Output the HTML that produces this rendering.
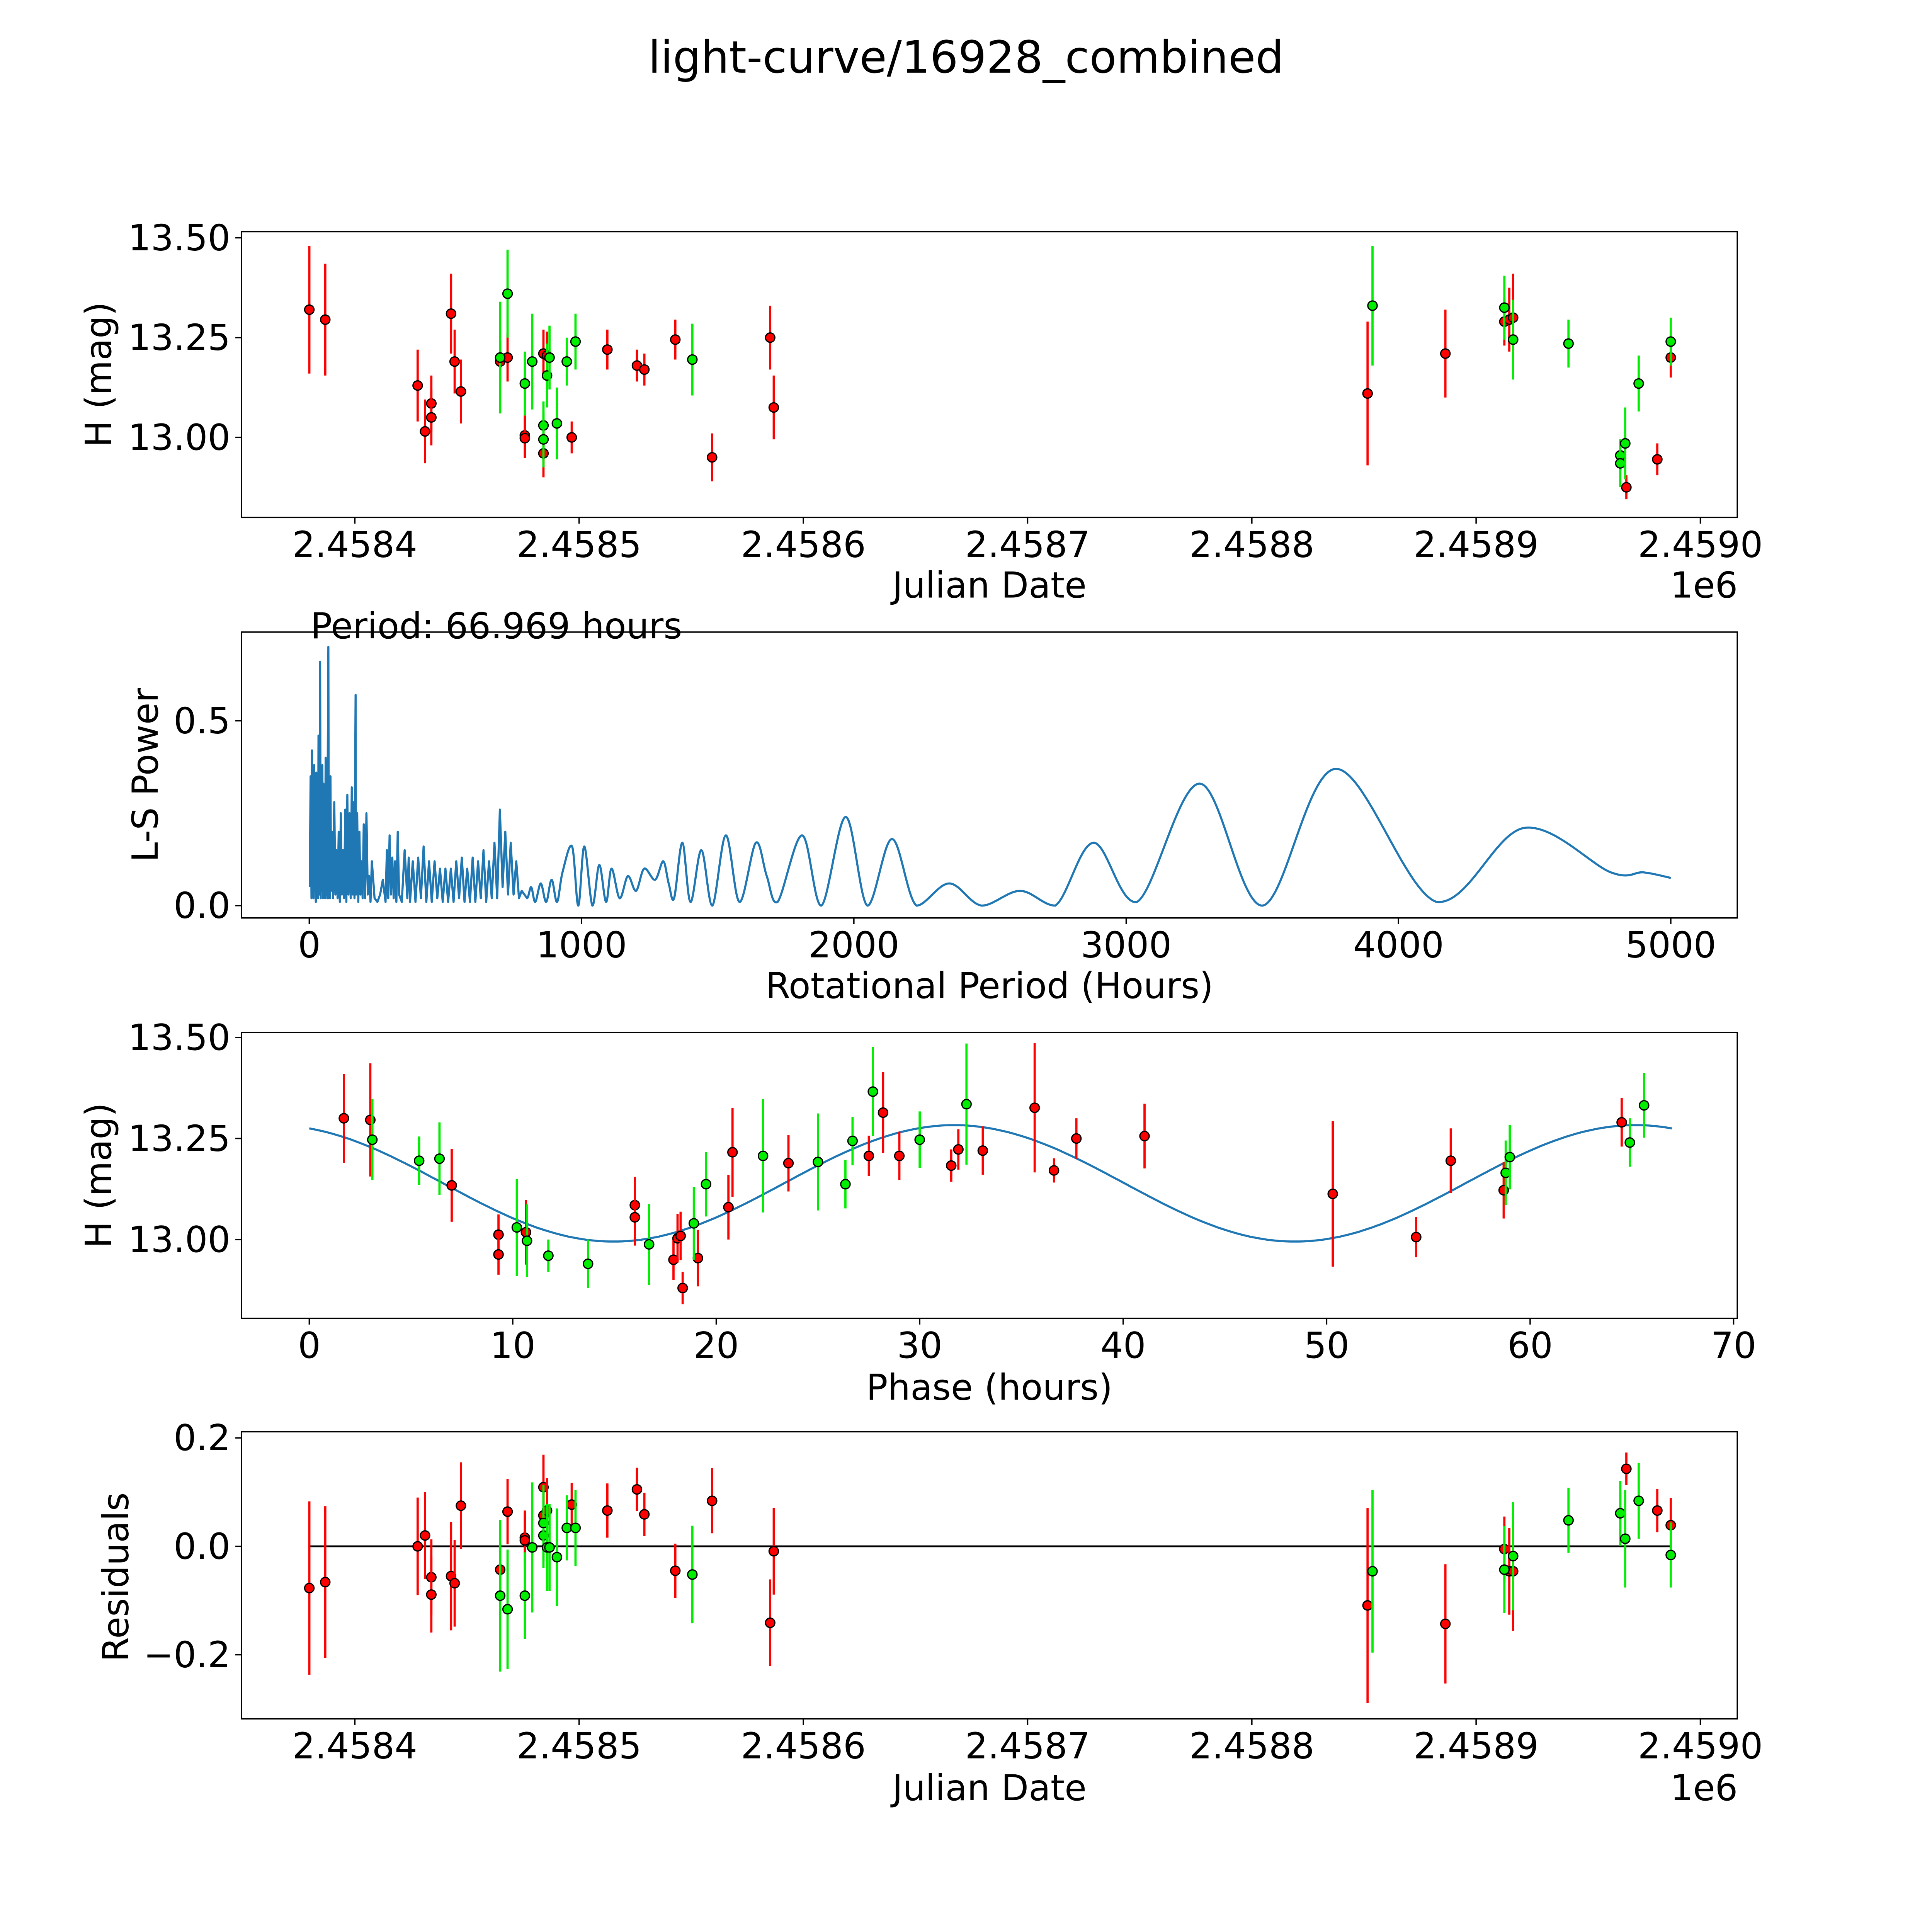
<!DOCTYPE html>
<html><head><meta charset="utf-8"><style>
html,body{margin:0;padding:0;background:#fff;overflow:hidden;width:100%;height:100%}
svg{display:block;width:100vw;height:100vh}
text{font-family:"DejaVu Sans","Liberation Sans",sans-serif;fill:#000}
</style></head><body>
<svg id="fig" viewBox="0 0 1568 1568" preserveAspectRatio="none" xmlns="http://www.w3.org/2000/svg">
<rect width="1568" height="1568" fill="#fff"/>
<text x="784" y="59" font-size="36" text-anchor="middle">light-curve/16928_combined</text>
<g id="g"></g>
</svg>
<script>
// ---------- data ----------
const redJD=[-20.3,-13.2,28,31.3,34.1,34.1,42.9,44.5,47.3,64.8,68.1,75.8,75.8,84.1,84.1,85.7,96.7,112.6,125.8,129.1,142.9,159.3,185.2,186.8,451.6,486.3,512.6,514.8,516.5,567,580.8,586.8];
const redMag=[13.32,13.295,13.13,13.015,13.085,13.05,13.31,13.19,13.115,13.19,13.20,13.005,12.998,12.96,13.21,13.205,13.0,13.22,13.18,13.17,13.245,12.95,13.25,13.075,13.11,13.21,13.29,13.295,13.30,12.875,12.945,13.2];
const redErr=[0.16,0.14,0.09,0.08,0.07,0.07,0.1,0.08,0.08,0.05,0.06,0.05,0.05,0.06,0.06,0.06,0.04,0.05,0.04,0.04,0.05,0.06,0.08,0.08,0.18,0.11,0.06,0.08,0.11,0.03,0.04,0.05];
const grnJD=[64.8,68.1,75.8,79.1,84.1,84.1,85.7,86.8,90.1,94.5,98.4,150.5,453.8,512.6,516.5,541.2,564.3,564.3,566.5,572.5,586.8];
const grnMag=[13.2,13.36,13.135,13.19,13.03,12.995,13.155,13.2,13.035,13.19,13.24,13.195,13.33,13.325,13.245,13.235,12.955,12.935,12.985,13.135,13.24];
const grnErr=[0.14,0.11,0.08,0.12,0.06,0.07,0.08,0.08,0.09,0.06,0.07,0.09,0.15,0.08,0.1,0.06,0.04,0.06,0.09,0.07,0.06];
const redRes=[-0.077,-0.066,0,0.02,-0.057,-0.089,-0.055,-0.068,0.075,-0.043,0.064,0.016,0.011,0.057,0.109,0.066,0.077,0.066,0.105,0.059,-0.045,0.084,-0.141,-0.009,-0.109,-0.143,-0.005,-0.046,-0.046,0.143,0.066,0.039];
const grnRes=[-0.091,-0.116,-0.091,-0.002,0.02,0.043,-0.002,-0.002,-0.02,0.034,0.034,-0.052,-0.046,-0.043,-0.018,0.048,0.061,0.061,0.014,0.084,-0.016];
const redPhase=[1.7,3.0,7.0,9.3,9.3,10.65,16.0,16.0,17.9,18.1,18.25,18.35,19.1,20.6,20.8,23.55,27.5,28.2,29.0,31.55,31.9,33.1,35.65,36.6,37.7,41.05,50.3,54.4,56.1,58.7,64.5];
const redPMag=[13.30,13.296,13.134,13.012,12.963,13.018,13.085,13.055,12.95,13.003,13.009,12.88,12.954,13.08,13.216,13.189,13.207,13.314,13.207,13.183,13.223,13.22,13.326,13.171,13.25,13.256,13.113,13.006,13.195,13.122,13.29];
const redPErr=[0.11,0.14,0.09,0.05,0.05,0.08,0.07,0.07,0.05,0.06,0.06,0.04,0.07,0.08,0.11,0.07,0.05,0.1,0.06,0.04,0.05,0.06,0.16,0.03,0.05,0.08,0.18,0.05,0.08,0.07,0.06];
const grnPhase=[3.1,5.4,6.4,10.2,10.7,11.75,13.7,16.7,18.9,19.5,22.3,25.0,26.35,26.7,27.7,30.0,32.3,58.8,59.0,64.9,65.6];
const grnPMag=[13.247,13.195,13.2,13.03,12.997,12.96,12.94,12.988,13.04,13.137,13.207,13.192,13.137,13.244,13.366,13.247,13.335,13.165,13.204,13.24,13.332];
const grnPErr=[0.1,0.06,0.09,0.12,0.09,0.04,0.06,0.1,0.09,0.08,0.14,0.12,0.06,0.06,0.11,0.07,0.15,0.08,0.08,0.06,0.08];
const fitParams=[13.139,0.144,31.7,33.4845];
const fitPeriod=66.969;
const lsPeriod=[
2,5,8,10,12,14,16,18,20,22,
24,26,28,30,32,34,36,38,40,42,
44,46,48,50,52,54,56,58,60,62,
64,66,68,70,72,74,76,78,80,84,
88,92,96,100,104,108,112,116,120,124,
128,132,136,140,144,148,152,156,160,164,
166,170,172,176,180,184,188,192,196,200,
205,210,215,220,225,230,240,250,260,270,
280,285,290,295,300,305,310,315,320,325,
330,340,350,360,365,370,380,390,400,410,
420,430,440,450,460,470,480,490,500,510,
520,530,540,550,560,570,580,590,600,610,
620,630,640,650,660,670,680,690,700,710,
720,730,740,750,760,770,780,800,815,830,
850,870,890,910,930,965,988,1010,1040,1065,
1090,1110,1140,1170,1200,1230,1270,1300,1320,1340,
1370,1400,1440,1480,1530,1580,1640,1680,1720,1810,
1880,1970,2050,2140,2230,2350,2470,2610,2740,2880,
3040,3270,3500,3770,4140,4460,4780,4900,5000];
const lsPower=[
0.05,0.35,0.02,0.42,0.03,0.3,0.02,0.38,0.04,0.33,
0.01,0.36,0.05,0.25,0.02,0.46,0.03,0.2,0.66,0.02,
0.3,0.04,0.38,0.02,0.33,0.05,0.22,0.02,0.4,0.03,
0.25,0.02,0.38,0.7,0.02,0.3,0.02,0.35,0.04,0.2,
0.02,0.28,0.03,0.15,0.02,0.2,0.01,0.25,0.03,0.15,
0.02,0.26,0.01,0.3,0.03,0.25,0.02,0.32,0.03,0.28,
0.02,0.57,0.03,0.25,0.01,0.2,0.03,0.12,0.02,0.22,
0.02,0.25,0.03,0.08,0.01,0.12,0.02,0.01,0.03,0.07,
0.01,0.15,0.02,0.19,0.03,0.13,0.02,0.12,0.01,0.2,
0.03,0.01,0.15,0.02,0.13,0.01,0.12,0.01,0.13,0.02,
0.16,0.01,0.12,0.01,0.12,0.02,0.1,0.01,0.1,0.01,
0.1,0.01,0.12,0.02,0.13,0.01,0.1,0.01,0.13,0.01,
0.12,0.02,0.15,0.01,0.12,0.02,0.17,0.02,0.26,0.05,
0.2,0.03,0.17,0.03,0.12,0.02,0.04,0.02,0.05,0.01,
0.06,0.01,0.07,0.01,0.09,0.16,0.0,0.16,0.0,0.11,
0.01,0.1,0.02,0.08,0.04,0.1,0.07,0.12,0.06,0.02,
0.17,0.01,0.15,0.0,0.19,0.01,0.17,0.08,0.01,0.19,
0.0,0.24,0.0,0.18,0.0,0.06,0.0,0.04,0.0,0.17,
0.01,0.33,0.0,0.37,0.01,0.21,0.09,0.09,0.075];
const jdTicks=[2458400,2458500,2458600,2458700,2458800,2458900,2459000];
const jdTickLabels=["2.4584","2.4585","2.4586","2.4587","2.4588","2.4589","2.4590"];
const magTicks=[13.0,13.25,13.5];
const magTickLabels=["13.00","13.25","13.50"];
const lsXTicks=[0,1000,2000,3000,4000,5000];
const lsYTicks=[0,0.5];
const lsYTickLabels=["0.0","0.5"];
const phTicks=[0,10,20,30,40,50,60,70];
const resTicks=[-0.2,0,0.2];
const resTickLabels=["\u22120.2","0.0","0.2"];

// ---------- scales ----------
const jdX=jd=>288+(jd-2458400)*1.82;
const jdX0=o=>288+o*1.82;
const p1Y=m=>355-(m-13)*324;
const lsX=p=>251+p*0.221;
const lsY=v=>735-v*300;
const phX=p=>251+p*16.514;
const p3Y=m=>1006-(m-13)*328;
const resY=r=>1255-r*440;
const FS=29;

const NS="http://www.w3.org/2000/svg";
const G=document.getElementById('g');
function mk(tag,attrs,parent){const e=document.createElementNS(NS,tag);for(const k in attrs)e.setAttribute(k,attrs[k]);(parent||G).appendChild(e);return e;}
function txt(s,attrs,parent){const e=mk('text',attrs,parent);e.textContent=s;return e;}

function frame(name,x0,y0,x1,y1){
  const r=mk('rect',{x:x0,y:y0,width:x1-x0,height:y1-y0,fill:'none',stroke:'#000','stroke-width':1.1});
  
  
}
function xticks(name,vals,labels,fx,yb){
  vals.forEach((v,i)=>{const x=fx(v);
    const t=mk('line',{x1:x,x2:x,y1:yb,y2:yb+5,stroke:'#000','stroke-width':1.1});
    
    
    const l=txt(labels[i],{x:x,y:yb+32,'font-size':FS,'text-anchor':'middle'});
    
    });
}
function yticks(name,vals,labels,fy,xl){
  vals.forEach((v,i)=>{const y=fy(v);
    const t=mk('line',{x1:xl-5,x2:xl,y1:y,y2:y,stroke:'#000','stroke-width':1.1});
    
    
    const l=txt(labels[i],{x:xl-9,y:y+10,'font-size':FS,'text-anchor':'end'});
    
    });
}
function ylabel(name,s,x,y){
  const l=txt(s,{x:x,y:y,'font-size':FS,'text-anchor':'middle',transform:`rotate(-90 ${x} ${y})`});
  
  
}
function xlabel(name,s,x,y){
  const l=txt(s,{x:x,y:y,'font-size':FS,'text-anchor':'middle'});
  
  
}
function points(name,xs,ys,errs,color,fx,fy,errScale){
  xs.forEach((v,i)=>{
    const x=fx(v),y=fy(ys[i]);
    if(errs){const e=errs[i]*errScale;
      const b=mk('line',{x1:x,x2:x,y1:y-e,y2:y+e,stroke:color,'stroke-width':1.8});
      
      }
    const c=mk('circle',{cx:x,cy:y,r:3.8,fill:color,stroke:'#000','stroke-width':1});
    
    
  });
}

// ---------- Panel 1 ----------
frame('lightcurve',196,188,1410,420);
xticks('lightcurve',jdTicks,jdTickLabels,jdX,420);
yticks('lightcurve',magTicks,magTickLabels,p1Y,196);
xlabel('lightcurve','Julian Date',803,485);
let o=txt('1e6',{x:1383,y:485,'font-size':FS,'text-anchor':'middle'});


ylabel('lightcurve','H (mag)',90,304);
points('lightcurve-red',redJD,redMag,redErr,'#ff0000',jdX0,p1Y,324);
points('lightcurve-green',grnJD,grnMag,grnErr,'#00ee00',jdX0,p1Y,324);

// ---------- Panel 2 ----------
frame('periodogram',196,513,1410,745);
xticks('periodogram',lsXTicks,lsXTicks.map(String),lsX,745);
yticks('periodogram',lsYTicks,lsYTickLabels,lsY,196);
xlabel('periodogram','Rotational Period (Hours)',803,810);
ylabel('periodogram','L-S Power',128,629);
let pt=txt('Period: 66.969 hours',{x:252,y:518,'font-size':FS});


const P=lsPeriod.map((p,i)=>[lsX(p),lsY(lsPower[i])]);
let d='M'+P[0][0].toFixed(1)+' '+P[0][1].toFixed(1);
for(let i=0;i<P.length-1;i++){
  const p0=P[Math.max(0,i-1)],p1=P[i],p2=P[i+1],p3=P[Math.min(P.length-1,i+2)];
  if(lsPeriod[i]<800){d+='L'+p2[0].toFixed(1)+' '+p2[1].toFixed(1);continue;}
  const c1x=p1[0]+(p2[0]-p0[0])/6,c1y=p1[1]+(p2[1]-p0[1])/6;
  const c2x=p2[0]-(p3[0]-p1[0])/6,c2y=p2[1]-(p3[1]-p1[1])/6;
  d+='C'+c1x.toFixed(1)+' '+Math.min(735,c1y).toFixed(1)+' '+c2x.toFixed(1)+' '+Math.min(735,c2y).toFixed(1)+' '+p2[0].toFixed(1)+' '+p2[1].toFixed(1);
}
let pl=mk('path',{d:d,fill:'none',stroke:'#1f77b4','stroke-width':1.7,'stroke-linejoin':'round'});



// ---------- Panel 3 ----------
frame('phase',196,838,1410,1070);
xticks('phase',phTicks,phTicks.map(String),phX,1070);
yticks('phase',magTicks,magTickLabels,p3Y,196);
xlabel('phase','Phase (hours)',803,1136);
ylabel('phase','H (mag)',90,954);
const model=p=>fitParams[0]+fitParams[1]*Math.cos(2*Math.PI*(p-fitParams[2])/fitParams[3]);
let md='';for(let k=0;k<=300;k++){const p=fitPeriod*k/300;md+=(k?'L':'M')+phX(p).toFixed(1)+' '+p3Y(model(p)).toFixed(1);}
let ml=mk('path',{d:md,fill:'none',stroke:'#1f77b4','stroke-width':1.7});


points('phase-red',redPhase,redPMag,redPErr,'#ff0000',phX,p3Y,328);
points('phase-green',grnPhase,grnPMag,grnPErr,'#00ee00',phX,p3Y,328);

// ---------- Panel 4 ----------
frame('residuals',196,1162,1410,1395);
xticks('residuals',jdTicks,jdTickLabels,jdX,1395);
yticks('residuals',resTicks,resTickLabels,resY,196);
xlabel('residuals','Julian Date',803,1461);
let o2=txt('1e6',{x:1383,y:1461,'font-size':FS,'text-anchor':'middle'});


ylabel('residuals','Residuals',104,1280);
let zl=mk('line',{x1:jdX0(-20.3),x2:jdX0(586.8),y1:resY(0),y2:resY(0),stroke:'#000','stroke-width':1.5});


points('residuals-red',redJD,redRes,redErr,'#ff0000',jdX0,resY,440);
points('residuals-green',grnJD,grnRes,grnErr,'#00ee00',jdX0,resY,440);
</script>
</body></html>
